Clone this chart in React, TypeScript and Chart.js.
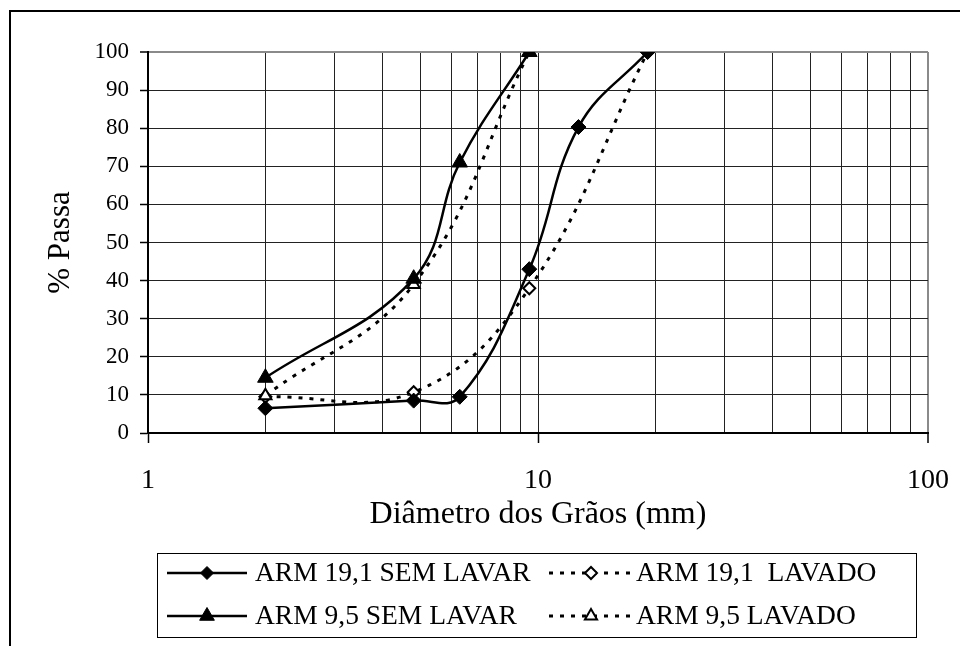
import React, { useEffect, useRef } from 'react';
import { Chart, registerables } from 'chart.js';

Chart.register(...registerables);

// ---------- data ----------
const sizes19SemLavar = [2.0, 4.8, 6.3, 9.5, 12.7, 19.1];
const pass19SemLavar = [6.5, 8.5, 9.5, 43, 80.3, 100];

const sizes19Lavado = [2.0, 4.8, 9.5, 19.1];
const pass19Lavado = [9.5, 10.7, 38, 100];

const sizes95SemLavar = [2.0, 4.8, 6.3, 9.5];
const pass95SemLavar = [14.5, 40.5, 71, 100];

const sizes95Lavado = [2.0, 4.8, 9.5];
const pass95Lavado = [9.8, 39, 100];

const seriesNames = ['ARM 19,1 SEM LAVAR', 'ARM 19,1  LAVADO', 'ARM 9,5 SEM LAVAR', 'ARM 9,5 LAVADO'];

const xGridValues = [1, 2, 3, 4, 5, 6, 7, 8, 9, 10, 20, 30, 40, 50, 60, 70, 80, 90, 100];
const xLabelValues = [1, 10, 100];
const yMin = 0;
const yMax = 100;
const yStep = 10;

const xTitle = 'Diâmetro dos Grãos (mm)';
const yTitle = '% Passa';

const FONT = "'Liberation Serif', 'Times New Roman', serif";

const toPoints = (xs: number[], ys: number[]) => xs.map((x, i) => ({ x, y: ys[i] }));

function drawMarker(ctx: CanvasRenderingContext2D, style: string, x: number, y: number, r: number, fill: string, stroke: string, lw: number) {
  ctx.save();
  ctx.setLineDash([]);
  ctx.beginPath();
  if (style === 'rectRot') {
    ctx.moveTo(x - r, y);
    ctx.lineTo(x, y - r);
    ctx.lineTo(x + r, y);
    ctx.lineTo(x, y + r);
  } else {
    let rad = 0;
    ctx.moveTo(x + Math.sin(rad) * r, y - Math.cos(rad) * r);
    rad += (2 * Math.PI) / 3;
    ctx.lineTo(x + Math.sin(rad) * r, y - Math.cos(rad) * r);
    rad += (2 * Math.PI) / 3;
    ctx.lineTo(x + Math.sin(rad) * r, y - Math.cos(rad) * r);
  }
  ctx.closePath();
  ctx.fillStyle = fill;
  ctx.fill();
  ctx.lineWidth = lw;
  ctx.strokeStyle = stroke;
  ctx.stroke();
  ctx.restore();
}

const framePlugin = {
  id: 'outerFrame',
  beforeDraw(chart: any) {
    const ctx = chart.ctx as CanvasRenderingContext2D;
    ctx.save();
    ctx.fillStyle = '#ffffff';
    ctx.fillRect(0, 0, chart.width, chart.height);
    ctx.strokeStyle = '#000';
    ctx.lineWidth = 2;
    ctx.beginPath();
    ctx.moveTo(10, chart.height + 5);
    ctx.lineTo(10, 11);
    ctx.lineTo(chart.width + 5, 11);
    ctx.stroke();
    ctx.restore();
  },
};

const legendSizes = [6.5, 6, 8.5, 7];

const legendPlugin = {
  id: 'boxLegend',
  afterDraw(chart: any) {
    const ctx = chart.ctx as CanvasRenderingContext2D;
    ctx.save();
    ctx.strokeStyle = '#000';
    ctx.lineWidth = 1;
    ctx.strokeRect(157.5, 553.5, 759, 84);
    const rows = [573, 616];
    const cols = [
      { x0: 167, x1: 247, tx: 255 },
      { x0: 549, x1: 633, tx: 636 },
    ];
    chart.data.datasets.forEach((ds: any, i: number) => {
      const row = rows[Math.floor(i / 2)];
      const col = cols[i % 2];
      ctx.save();
      ctx.strokeStyle = '#000';
      ctx.lineWidth = ds.borderWidth;
      ctx.setLineDash(ds.borderDash || []);
      ctx.beginPath();
      ctx.moveTo(col.x0, row);
      ctx.lineTo(col.x1, row);
      ctx.stroke();
      ctx.restore();
      const mx = (col.x0 + col.x1) / 2;
      drawMarker(ctx, ds.pointStyle, mx, row, legendSizes[i], ds.pointBackgroundColor, '#000', ds.pointBorderWidth);
      ctx.fillStyle = '#000';
      ctx.font = `27.5px ${FONT}`;
      ctx.textBaseline = 'middle';
      ctx.textAlign = 'left';
      ctx.fillText(ds.label, col.tx, row + 1);
    });
    ctx.restore();
  },
};

export default function App() {
  const canvasRef = useRef<HTMLCanvasElement | null>(null);

  useEffect(() => {
    const canvas = canvasRef.current;
    if (!canvas) return;
    const chart = new Chart(canvas, {
      type: 'scatter',
      data: {
        datasets: [
          {
            label: seriesNames[0],
            data: toPoints(sizes19SemLavar, pass19SemLavar),
            showLine: true,
            borderColor: '#000',
            borderWidth: 2.5,
            tension: 0.4,
            pointStyle: 'rectRot',
            pointRadius: 7.5,
            pointBackgroundColor: '#000',
            pointBorderColor: '#000',
            pointBorderWidth: 1,
            order: 0,
          },
          {
            label: seriesNames[1],
            data: toPoints(sizes19Lavado, pass19Lavado),
            showLine: true,
            borderColor: '#000',
            borderWidth: 3,
            borderDash: [4, 7],
            tension: 0.4,
            pointStyle: 'rectRot',
            pointRadius: 6,
            pointBackgroundColor: '#fff',
            pointBorderColor: '#000',
            pointBorderWidth: 2,
            order: 3,
          },
          {
            label: seriesNames[2],
            data: toPoints(sizes95SemLavar, pass95SemLavar),
            showLine: true,
            borderColor: '#000',
            borderWidth: 2.5,
            tension: 0.4,
            pointStyle: 'triangle',
            pointRadius: 9,
            pointBackgroundColor: '#000',
            pointBorderColor: '#000',
            pointBorderWidth: 1,
            order: 1,
          },
          {
            label: seriesNames[3],
            data: toPoints(sizes95Lavado, pass95Lavado),
            showLine: true,
            borderColor: '#000',
            borderWidth: 3,
            borderDash: [4, 7],
            tension: 0.4,
            pointStyle: 'triangle',
            pointRadius: 7,
            pointBackgroundColor: '#fff',
            pointBorderColor: '#000',
            pointBorderWidth: 2,
            order: 2,
          },
        ],
      },
      options: {
        responsive: false,
        animation: false,
        devicePixelRatio: 1,
        layout: { padding: { top: 52, right: 32, bottom: 106, left: 0 } },
        plugins: {
          legend: { display: false },
          tooltip: { enabled: false },
        },
        scales: {
          x: {
            type: 'logarithmic',
            position: 'bottom',
            min: 1,
            max: 100,
            afterBuildTicks: (s: any) => {
              s.ticks = xGridValues.map((v) => ({ value: v }));
            },
            afterFit: (s: any) => {
              s.height = 107;
              s.paddingLeft = 0;
              s.paddingRight = 0;
            },
            ticks: {
              autoSkip: false,
              maxRotation: 0,
              minRotation: 0,
              padding: 21,
              color: '#000',
              font: { family: FONT, size: 28 },
              callback: (v: any) => (xLabelValues.includes(Number(v)) ? String(v) : ''),
            },
            grid: {
              color: (c: any) => (c.tick && c.tick.value === 100 ? '#8a8a8a' : '#222'),
              lineWidth: (c: any) => (c.tick && c.tick.value === 100 ? 2 : 1),
              tickLength: 10,
              tickWidth: 1.5,
              tickColor: (c: any) => (c.tick && xLabelValues.includes(c.tick.value) ? '#000' : 'rgba(0,0,0,0)'),
            },
            border: { display: true, color: '#000', width: 2 },
            title: {
              display: true,
              text: xTitle,
              color: '#000',
              font: { family: FONT, size: 32 },
              padding: { top: 0, bottom: 6 },
            },
          },
          y: {
            type: 'linear',
            min: yMin,
            max: yMax,
            afterFit: (s: any) => {
              s.width = 148;
              s.paddingTop = 0;
              s.paddingBottom = 0;
            },
            ticks: {
              stepSize: yStep,
              padding: 11,
              color: '#000',
              font: { family: FONT, size: 23 },
            },
            grid: {
              color: (c: any) => (c.tick && c.tick.value === 100 ? '#8a8a8a' : '#222'),
              lineWidth: (c: any) => (c.tick && c.tick.value === 100 ? 2 : 1),
              tickLength: 8,
              tickWidth: 1.5,
              tickColor: '#000',
            },
            border: { display: true, color: '#000', width: 2 },
            title: {
              display: true,
              text: yTitle,
              color: '#000',
              font: { family: FONT, size: 31 },
              padding: { top: 42, bottom: 0 },
            },
          },
        },
      } as any,
      plugins: [framePlugin, legendPlugin],
    });
    return () => chart.destroy();
  }, []);

  return (
    <div style={{ position: 'absolute', left: 0, top: 0, width: 960, height: 646, background: '#fff' }}>
      <canvas ref={canvasRef} width={960} height={646} />
    </div>
  );
}
